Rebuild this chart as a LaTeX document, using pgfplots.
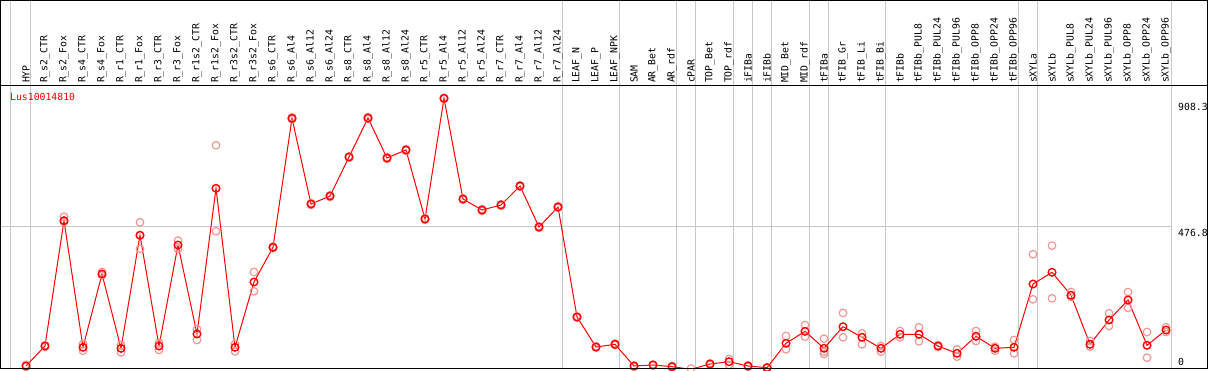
\documentclass[border=0pt]{standalone}
\usepackage{pgfplots}
\pgfplotsset{compat=1.18}
\usepackage{pgfplotstable}
\usepackage{fontspec}
\setmonofont{DejaVu Sans Mono}
\definecolor{mainred}{RGB}{255,0,0}
\definecolor{pinkrep}{RGB}{240,150,150}
\definecolor{sepgray}{RGB}{200,200,200}
\newcommand{\lf}{\ttfamily\fontsize{9.8}{10}\selectfont}

\pgfplotstableread{
x y
0 8.4
1 75.6
2 496.8
3 71.3
4 317.6
5 67.9
6 447.7
7 75.6
8 415.1
9 116.0
10 605.7
11 71.3
12 290.8
13 407.4
14 841.0
15 552.9
16 579.8
17 710.9
18 842.0
19 707.6
20 734.5
21 502.5
22 908.2
23 569.7
24 532.8
25 549.6
26 613.4
27 475.6
28 542.9
29 173.1
30 72.3
31 81.3
32 8.4
33 11.8
34 6.1
35 -2.7
36 15.1
37 22.9
38 8.4
39 2.7
40 84.7
41 125.0
42 67.9
43 140.5
44 104.9
45 67.9
46 115.0
47 115.0
48 75.6
49 51.1
50 108.2
51 67.9
52 71.3
53 284.0
54 323.4
55 246.1
56 81.3
57 163.0
58 230.3
59 78.0
60 129.4
}\meantable

\pgfplotstableread{
x y
0 12
0 6
1 78
1 73
2 510.3
2 492.4
2 496
3 82.4
3 59.8
4 324.4
4 313.3
5 79.0
5 54.5
6 491.4
6 402.7
6 449
7 86.7
7 62.2
8 429.6
8 401.7
9 131.8
9 95.8
10 750.3
10 461.2
11 82.4
11 57.8
12 324.4
12 259.5
13 410
13 405
14 844
14 838
15 556
15 550
16 582
16 577
17 713
17 708
18 845
18 839
19 710
19 705
20 737
20 732
21 505
21 500
22 910
22 906
23 572
23 567
24 535
24 530
25 552
25 547
26 616
26 611
27 478
27 473
28 545
28 540
29 175
29 171
30 74
30 70
31 84
31 79
32 10
32 6
33 13
33 10
34 8
34 4
35 0
35 -3
36 17
36 13
37 31.9
37 11.8
38 10
38 6
39 4
39 1
40 109.2
40 64.5
41 146.2
41 106.9
42 100.2
42 56.5
42 48.7
43 186.6
43 104.9
44 118.3
44 81.3
45 75.6
45 56.5
46 126.1
46 104.9
47 138.5
47 91.4
48 78
48 73
49 64.5
49 39.7
50 126.1
50 92.4
51 73.3
51 59.8
52 95.8
52 51.1
53 383.9
53 232.6
54 412.8
54 236.0
55 257.1
55 240.3
56 92.4
56 73.3
57 185.5
57 142.9
58 257.1
58 203.4
59 122.7
59 36.3
60 138.5
60 122.7
}\reptable

\begin{document}
\begin{tikzpicture}
\useasboundingbox (0pt,0pt) rectangle (1209pt,370pt);
\foreach \p in {10.2,30.75,562.75,619.75,676.75,695.75,733.75,752.75,771.75,809.75,828.75,885.75,1018.75,1037.75,1171}
  \draw[sepgray, line width=1pt] (\p pt,1.5pt) -- (\p pt,369.5pt);
\begin{axis}[
  at={(0.5pt,1.5pt)}, anchor=south west,
  scale only axis, width=1170.5pt, height=282.8pt,
  xmin=-1.342, xmax=60.263, ymin=0, ymax=950.6,
  axis line style={draw=none},
  major tick length=0pt,
  xtick={0,...,60},
  xticklabels={HYP,R\_s2\_CTR,R\_s2\_Fox,R\_s4\_CTR,R\_s4\_Fox,R\_r1\_CTR,R\_r1\_Fox,R\_r3\_CTR,R\_r3\_Fox,R\_r1s2\_CTR,R\_r1s2\_Fox,R\_r3s2\_CTR,R\_r3s2\_Fox,R\_s6\_CTR,R\_s6\_Al4,R\_s6\_Al12,R\_s6\_Al24,R\_s8\_CTR,R\_s8\_Al4,R\_s8\_Al12,R\_s8\_Al24,R\_r5\_CTR,R\_r5\_Al4,R\_r5\_Al12,R\_r5\_Al24,R\_r7\_CTR,R\_r7\_Al4,R\_r7\_Al12,R\_r7\_Al24,LEAF\_N,LEAF\_P,LEAF\_NPK,SAM,AR\_Bet,AR\_rdf,cPAR,TOP\_Bet,TOP\_rdf,iFIBa,iFIBb,MID\_Bet,MID\_rdf,tFIBa,tFIB\_Gr,tFIB\_Li,tFIB\_Bi,tFIBb,tFIBb\_PUL8,tFIBb\_PUL24,tFIBb\_PUL96,tFIBb\_OPP8,tFIBb\_OPP24,tFIBb\_OPP96,sXYLa,sXYLb,sXYLb\_PUL8,sXYLb\_PUL24,sXYLb\_PUL96,sXYLb\_OPP8,sXYLb\_OPP24,sXYLb\_OPP96},
  xticklabel pos=upper,
  xticklabel style={rotate=90, anchor=west, font=\lf, inner sep=0pt, text=black, xshift=2.5pt},
  ytick={476.8}, yticklabels={},
  ymajorgrids, grid style={sepgray, line width=1pt},
]
\addplot[only marks, mark=o, mark size=3.8pt, mark options={draw=pinkrep, line width=1.2pt}] table[x=x,y=y] {\reptable};
\addplot[mainred, line width=1pt, mark=o, mark size=3.8pt, mark options={draw=mainred, line width=1.4pt}] table[x=x,y=y] {\meantable};
\end{axis}
\draw[black, line width=1.2pt] (0.5pt,1.5pt) rectangle (1207.5pt,369.5pt);
\draw[black, line width=1.2pt] (0.5pt,284.3pt) -- (1207.5pt,284.3pt);
\node[anchor=west, text=mainred, font=\lf, inner sep=0pt] at (10pt,273pt) {Lus10014810};
\node[anchor=west, font=\lf, inner sep=0pt] at (1178pt,263pt) {908.3};
\node[anchor=west, font=\lf, inner sep=0pt] at (1178pt,137.5pt) {476.8};
\node[anchor=west, font=\lf, inner sep=0pt] at (1178pt,8pt) {0};
\end{tikzpicture}
\end{document}
